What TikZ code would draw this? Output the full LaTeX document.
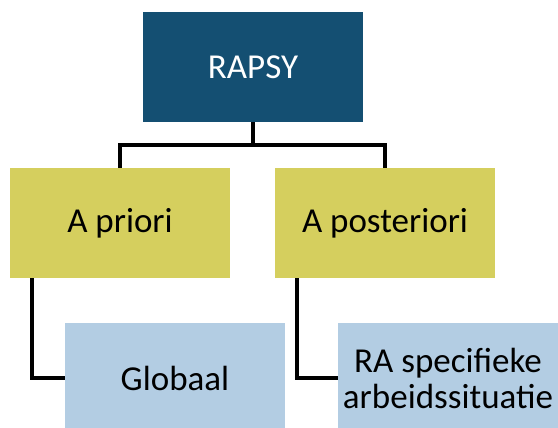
\documentclass[tikz,border=0pt]{standalone}
\usepackage{fontspec}
\setmainfont{Carlito}
\definecolor{topblue}{HTML}{144F72}
\definecolor{midyellow}{HTML}{D5CF5E}
\definecolor{lowblue}{HTML}{B3CDE3}
\begin{document}
\begin{tikzpicture}[x=1pt,y=-1pt,
  boxbase/.style={rectangle, minimum width=220pt, minimum height=110pt, inner sep=0pt, font=\fontsize{35}{36}\selectfont, align=center},
  topbox/.style={boxbase, fill=topblue, text=white},
  midbox/.style={boxbase, fill=midyellow, text=black},
  lowbox/.style={boxbase, fill=lowblue, text=black},
  link/.style={draw=black, line width=3.5pt}]
\clip (0,0) rectangle (558,428);
\useasboundingbox (0,0) rectangle (558,428);
\fill[white] (0,0) rectangle (558,428);
\node[topbox] (rapsy) at (253,67) {RAPSY};
\node[midbox] (apriori) at (120,223) {A priori};
\node[midbox] (apost) at (385,223) {A posteriori};
\node[lowbox] (glob) at (175,378) {Globaal};
\node[lowbox] (ra) at (448,378) {RA specifieke\\arbeidssituatie};
\draw[link] (rapsy.south) -- ++(0,23) coordinate (split) -| (apriori.north);
\draw[link] (split) -| (apost.north);
\draw[link] ([xshift=-88pt]apriori.south) |- (glob.west);
\draw[link] ([xshift=-88pt]apost.south) |- (ra.west);
\end{tikzpicture}
\end{document}
